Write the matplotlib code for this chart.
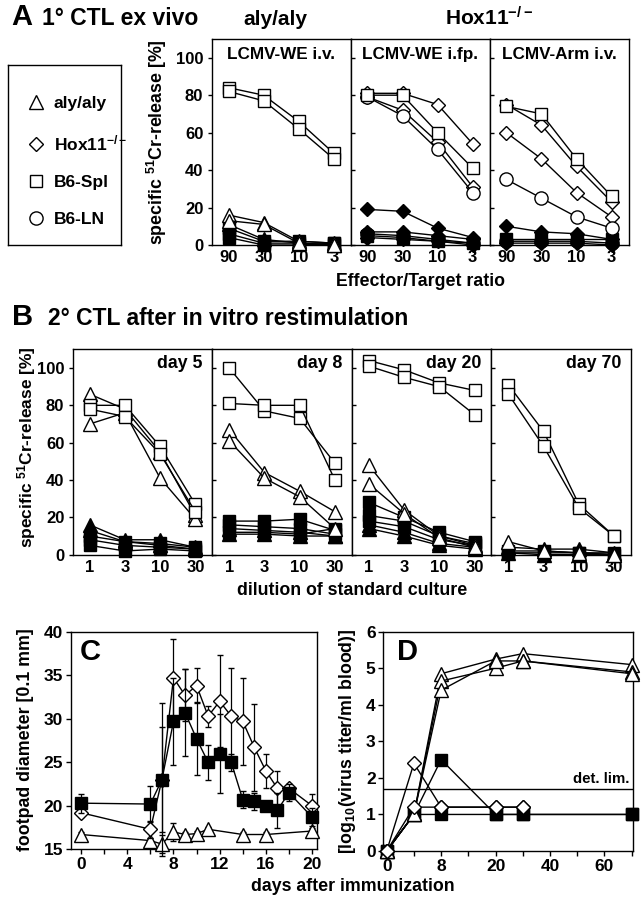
import numpy as np
import matplotlib
matplotlib.use('Agg')
import matplotlib.pyplot as plt
from matplotlib.lines import Line2D
from matplotlib.ticker import FixedLocator, MultipleLocator
import matplotlib.transforms as mtransforms

plt.rcParams['font.family'] = ['Liberation Sans', 'DejaVu Sans']
plt.rcParams['font.weight'] = 'bold'
plt.rcParams['mathtext.fontset'] = 'custom'
plt.rcParams['mathtext.rm'] = 'Liberation Sans:bold'
plt.rcParams['mathtext.it'] = 'Liberation Sans:bold'
plt.rcParams['mathtext.bf'] = 'Liberation Sans:bold'
plt.rcParams['axes.linewidth'] = 1.0

# ---------------- data ----------------
legend_labels = ['aly/aly', 'Hox11$^{-/-}$', 'B6-Spl', 'B6-LN']

A_titles = ['LCMV-WE i.v.', 'LCMV-WE i.fp.', 'LCMV-Arm i.v.']
A_ratios = ['90', '30', '10', '3']

# LCMV-WE i.v.
A1_open_tri = [[16, 12, 2, 1], [13, 11, 1, 0]]
A1_open_sq = [[84, 80, 66, 49], [82, 77, 62, 46]]
A1_filled_tri = [[11, 3, 1, 0]]
A1_filled_sq = [[9, 2, 2, 1], [6, 1, 1, 0], [4, 0, 0, 1]]
# LCMV-WE i.fp.
A2_open_dia = [[81, 81, 75, 54], [79, 72, 55, 31]]
A2_open_cir = [[79, 69, 51, 28]]
A2_open_sq = [[80, 80, 60, 41]]
A2_filled_dia = [[19, 18, 9, 4], [7, 7, 5, 3], [4, 3, 2, 0]]
A2_filled_cir = [[6, 5, 3, 1]]
A2_filled_sq = [[5, 4, 2, 1]]
# LCMV-Arm i.v.
A3_open_dia = [[75, 64, 42, 23], [60, 46, 28, 15]]
A3_open_cir = [[35, 25, 15, 9]]
A3_open_sq = [[74, 70, 46, 26]]
A3_filled_dia = [[10, 7, 6, 3], [1, 1, 1, 0]]
A3_filled_sq = [[3, 3, 3, 3]]
A3_filled_cir = [[2, 2, 2, 1]]

B_titles = ['day 5', 'day 8', 'day 20', 'day 70']
B_dilutions = ['1', '3', '10', '30']

B1_open_tri = [[86, 78, 55, 21], [70, 76, 41, 19]]
B1_open_sq = [[80, 80, 58, 27], [78, 74, 54, 23]]
B1_filled_tri = [[16, 8, 8, 4], [13, 7, 5, 3]]
B1_filled_sq = [[10, 7, 6, 4], [8, 5, 4, 3], [5, 2, 3, 2]]

B2_open_tri = [[67, 44, 34, 23], [61, 41, 31, 14]]
B2_open_sq = [[100, 77, 73, 49], [81, 80, 80, 40]]
B2_filled_tri = [[14, 13, 12, 10], [11, 11, 10, 10]]
B2_filled_sq = [[18, 18, 19, 13], [16, 15, 14, 11], [12, 12, 11, 14]]

B3_open_tri = [[48, 24, 10, 5], [38, 22, 9, 4]]
B3_open_sq = [[104, 99, 92, 88], [101, 95, 90, 75]]
B3_filled_tri = [[16, 12, 6, 4], [14, 10, 5, 3]]
B3_filled_sq = [[28, 20, 12, 7], [21, 18, 10, 6], [18, 15, 8, 5]]

B4_open_tri = [[7, 2, 1, 0]]
B4_open_sq = [[91, 66, 27, 10], [86, 58, 25, 10]]
B4_filled_tri = [[4, 3, 3, 1], [1, 0, 0, 0]]
B4_filled_sq = [[2, 2, 1, 1], [1, 1, 1, 0]]

C_tri_days = [0, 6, 7, 8, 9, 10, 11, 14, 16, 20]
C_tri_mean = [16.7, 16.0, 15.6, 17.0, 16.7, 16.8, 17.3, 16.7, 16.7, 17.1]
C_tri_err = [0.3, 0.3, 1.0, 1.0, 0.3, 0.3, 0.3, 0.3, 0.3, 0.3]
C_dia_days = [0, 6, 7, 8, 9, 10, 11, 12, 13, 14, 15, 16, 17, 18, 20]
C_dia_mean = [19.2, 17.3, 23.0, 34.7, 32.7, 33.8, 30.3, 32.0, 30.3, 29.7, 26.7, 24.0, 22.0, 22.0, 20.0]
C_dia_err = [0.5, 1.0, 6.0, 4.5, 3.0, 2.0, 1.2, 5.3, 5.5, 5.0, 5.0, 2.0, 2.0, 0.5, 1.3]
C_sq_days = [0, 6, 7, 8, 9, 10, 11, 12, 13, 14, 15, 16, 17, 18, 20]
C_sq_mean = [20.3, 20.2, 23.0, 29.7, 30.7, 27.7, 25.0, 26.0, 25.0, 20.7, 20.5, 20.0, 19.5, 21.5, 18.7]
C_sq_err = [1.1, 2.1, 8.8, 5.0, 5.0, 4.2, 2.0, 4.5, 1.0, 1.0, 1.0, 0.5, 2.0, 1.0, 1.0]

D_days = [0, 4, 8, 20, 30, 70]
D_tri = [[0, 1.0, 4.85, 5.25, 5.4, 5.1], [0, 1.0, 4.65, 5.0, 5.2, 4.9], [0, 1.0, 4.4, 5.2, 5.2, 4.85]]
D_dia_days = [0, 4, 8, 20, 30]
D_dia = [[0, 2.4, 1.2, 1.2, 1.2], [0, 1.2, 1.2, 1.2, 1.2]]
D_sq = [[0, 1.0, 2.5, 1.0, 1.0, 1.0], [0, 1.0, 1.0, 1.0, 1.0, 1.0]]
D_det_lim = 1.7
D_tick_days = [0, 4, 8, 14, 20, 30, 40, 50, 60, 70]
D_tick_labels = ['0', '', '8', '', '20', '', '40', '', '60', '']

# ---------------- styles ----------------
def sty(marker, filled, ms):
    return dict(marker=marker, mfc='black' if filled else 'white', mec='black', ms=ms, mew=1.0)

TRI_O = sty('^', False, 9.5); TRI_F = sty('^', True, 9.5)
DIA_O = sty('D', False, 7.2); DIA_F = sty('D', True, 7.2)
SQ_O = sty('s', False, 9.2); SQ_F = sty('s', True, 9.2)
CIR_O = sty('o', False, 9.5); CIR_F = sty('o', True, 9.5)

W, H = 643, 899
fig = plt.figure(figsize=(W / 100, H / 100), dpi=100)


def rect(l, t, r, b):
    return [l / W, 1 - b / H, (r - l) / W, (b - t) / H]


def fx(x):
    return x / W


def fy(y):
    return 1 - y / H


def draw(ax, series, style, z):
    for s in series:
        ax.plot(np.arange(len(s)), s, color='black', lw=1.0, zorder=z, clip_on=False, **style)


def setup_panel(ax, i, labels):
    ax.set_xlim(-0.48, 3.48)
    ax.set_ylim(0, 110)
    ax.set_xticks(range(len(labels)))
    ax.set_xticklabels(labels)
    ax.tick_params(axis='x', length=0, pad=3.5, labelsize=12)
    ax.set_yticks(range(0, 101, 20))
    if i == 0:
        ax.tick_params(axis='y', direction='out', length=3, width=1, pad=3, labelsize=12)
    else:
        ax.tick_params(axis='y', direction='in', length=3, width=1, labelleft=False)
    for sp in ax.spines.values():
        sp.set_linewidth(1.0)
    return ax


# ---------------- Panel A ----------------
A_l, A_r, A_t, A_b = 211.7, 628.5, 39, 245
wA = (A_r - A_l) / 3
A_sets = [
    [(A1_filled_sq, SQ_F), (A1_filled_tri, TRI_F), (A1_open_tri, TRI_O), (A1_open_sq, SQ_O)],
    [(A2_filled_sq, SQ_F), (A2_filled_cir, CIR_F), (A2_filled_dia, DIA_F),
     (A2_open_dia, DIA_O), (A2_open_cir, CIR_O), (A2_open_sq, SQ_O)],
    [(A3_filled_sq, SQ_F), (A3_filled_cir, CIR_F), (A3_filled_dia, DIA_F),
     (A3_open_dia, DIA_O), (A3_open_cir, CIR_O), (A3_open_sq, SQ_O)],
]
for i in range(3):
    ax = fig.add_axes(rect(A_l + i * wA, A_t, A_l + (i + 1) * wA, A_b))
    setup_panel(ax, i, A_ratios)
    ax.text(0.5, 0.902, A_titles[i], transform=ax.transAxes, ha='center', va='baseline',
            fontsize=12.3, fontweight='bold')
    for z, (ser, st) in enumerate(A_sets[i]):
        draw(ax, ser, st, 3 + z)

fig.text(fx(157), fy(142), 'specific $^{51}$Cr-release [%]', rotation=90, ha='center', va='center',
         fontsize=12.8, fontweight='bold')
fig.text(fx(420), fy(286), 'Effector/Target ratio', ha='center', va='baseline', fontsize=12.8,
         fontweight='bold')

# titles row A
fig.text(fx(11), fy(25), 'A', ha='left', va='baseline', fontsize=21, fontweight='bold')
fig.text(fx(42), fy(25), '1° CTL ex vivo', ha='left', va='baseline', fontsize=16.5, fontweight='bold')
fig.text(fx(275), fy(25), 'aly/aly', ha='center', va='baseline', fontsize=15, fontweight='bold')
fig.text(fx(489), fy(25), 'Hox11$^{-/-}$', ha='center', va='baseline', fontsize=15, fontweight='bold')

# legend box
axL = fig.add_axes(rect(8, 65, 121, 245))
axL.set_xticks([]); axL.set_yticks([])
for sp in axL.spines.values():
    sp.set_linewidth(1.0)
handles = [Line2D([], [], ls='none', **TRI_O), Line2D([], [], ls='none', **DIA_O),
           Line2D([], [], ls='none', **SQ_O), Line2D([], [], ls='none', **CIR_O)]
axL.legend(handles, legend_labels, loc='center left', bbox_to_anchor=(0.09, 0.464),
           frameon=False, borderpad=0, handlelength=1.0, handletextpad=0.55,
           labelspacing=1.25, prop={'weight': 'bold', 'size': 12.5})

# ---------------- Panel B ----------------
B_l, B_r, B_t, B_b = 72.7, 631, 349.3, 554.7
wB = (B_r - B_l) / 4
B_sets = [
    [(B1_filled_sq, SQ_F), (B1_filled_tri, TRI_F), (B1_open_tri, TRI_O), (B1_open_sq, SQ_O)],
    [(B2_filled_sq, SQ_F), (B2_filled_tri, TRI_F), (B2_open_tri, TRI_O), (B2_open_sq, SQ_O)],
    [(B3_filled_sq, SQ_F), (B3_filled_tri, TRI_F), (B3_open_tri, TRI_O), (B3_open_sq, SQ_O)],
    [(B4_filled_sq, SQ_F), (B4_filled_tri, TRI_F), (B4_open_tri, TRI_O), (B4_open_sq, SQ_O)],
]
for i in range(4):
    ax = fig.add_axes(rect(B_l + i * wB, B_t, B_l + (i + 1) * wB, B_b))
    setup_panel(ax, i, B_dilutions)
    ax.text(0.93, 0.9075, B_titles[i], transform=ax.transAxes, ha='right', va='baseline',
            fontsize=12.8, fontweight='bold')
    for z, (ser, st) in enumerate(B_sets[i]):
        draw(ax, ser, st, 3 + z)

fig.text(fx(27), fy(447), 'specific $^{51}$Cr-release [%]', rotation=90, ha='center', va='center',
         fontsize=12.5, fontweight='bold')
fig.text(fx(352), fy(595), 'dilution of standard culture', ha='center', va='baseline', fontsize=12.8,
         fontweight='bold')
fig.text(fx(12), fy(325), 'B', ha='left', va='baseline', fontsize=21, fontweight='bold')
fig.text(fx(48), fy(325), '2° CTL after in vitro restimulation', ha='left', va='baseline',
         fontsize=16.5, fontweight='bold')

# ---------------- Panel C ----------------
axC = fig.add_axes(rect(70.7, 631.7, 316.7, 849.3))
axC.errorbar(C_tri_days, C_tri_mean, yerr=C_tri_err, color='black', lw=1.0, elinewidth=0.9,
             capsize=2.5, capthick=0.9, zorder=3, clip_on=False, **TRI_O)
axC.errorbar(C_dia_days, C_dia_mean, yerr=C_dia_err, color='black', lw=1.0, elinewidth=0.9,
             capsize=2.5, capthick=0.9, zorder=4, clip_on=False, **sty('D', False, 6.8))
axC.errorbar(C_sq_days, C_sq_mean, yerr=C_sq_err, color='black', lw=1.0, elinewidth=0.9,
             capsize=2.5, capthick=0.9, zorder=5, clip_on=False, **sty('s', True, 8.5))
axC.set_xlim(-0.9, 20.4)
axC.set_ylim(15, 40)
axC.set_xticks(range(0, 21, 4))
axC.xaxis.set_minor_locator(MultipleLocator(2))
axC.set_yticks(range(15, 41, 5))
axC.tick_params(which='both', direction='out', length=3.5, width=1, labelsize=12.5, pad=2)
axC.text(0.078, 0.908, 'C', transform=axC.transAxes, ha='center', va='center', fontsize=21,
         fontweight='bold')
fig.text(fx(26), fy(740), 'footpad diameter [0.1 mm]', rotation=90, ha='center', va='center',
         fontsize=12.8, fontweight='bold')

# ---------------- Panel D ----------------
D_knot_days = [-4, 0, 4, 8, 14, 20, 30, 40, 50, 60, 70, 80]
D_knot_pos = [-1, 0, 1, 2, 3, 4, 5, 6, 7, 8, 9, 10]


def d_fwd(x):
    return np.interp(x, D_knot_days, D_knot_pos)


def d_inv(x):
    return np.interp(x, D_knot_pos, D_knot_days)


axD = fig.add_axes(rect(383.3, 631.7, 633.3, 851))
axD.set_xscale('function', functions=(d_fwd, d_inv))
axD.set_xlim(-0.5, 70.6)
axD.set_ylim(0, 6)
axD.axhline(D_det_lim, color='black', lw=1.0, zorder=2)
for s in D_sq:
    axD.plot(D_days, s, color='black', lw=1.0, zorder=3, clip_on=False, **sty('s', True, 8.5))
for s in D_tri:
    axD.plot(D_days, s, color='black', lw=1.0, zorder=4, clip_on=False, **sty('^', False, 9.5))
for s in D_dia:
    axD.plot(D_dia_days, s, color='black', lw=1.0, zorder=5, clip_on=False, **sty('D', False, 7.0))
axD.xaxis.set_major_locator(FixedLocator(D_tick_days))
axD.set_xticklabels(D_tick_labels)
axD.xaxis.set_minor_locator(FixedLocator([]))
axD.set_yticks(range(0, 7))
axD.tick_params(which='both', direction='out', length=3.5, width=1, labelsize=12.5, pad=2)
fig.text(fx(348), fy(741), '[log$_{10}$(virus titer/ml blood)]', rotation=90, ha='center',
         va='center', fontsize=12.8, fontweight='bold')
trD = mtransforms.blended_transform_factory(axD.transAxes, axD.transData)
axD.text(0.985, D_det_lim + 0.08, 'det. lim.', transform=trD, ha='right', va='bottom',
         fontsize=10.8, fontweight='bold')
axD.text(0.097, 0.909, 'D', transform=axD.transAxes, ha='center', va='center', fontsize=21,
         fontweight='bold')

fig.text(fx(353), fy(891), 'days after immunization', ha='center', va='baseline', fontsize=12.8,
         fontweight='bold')

fig.savefig('out.png', dpi=100)
